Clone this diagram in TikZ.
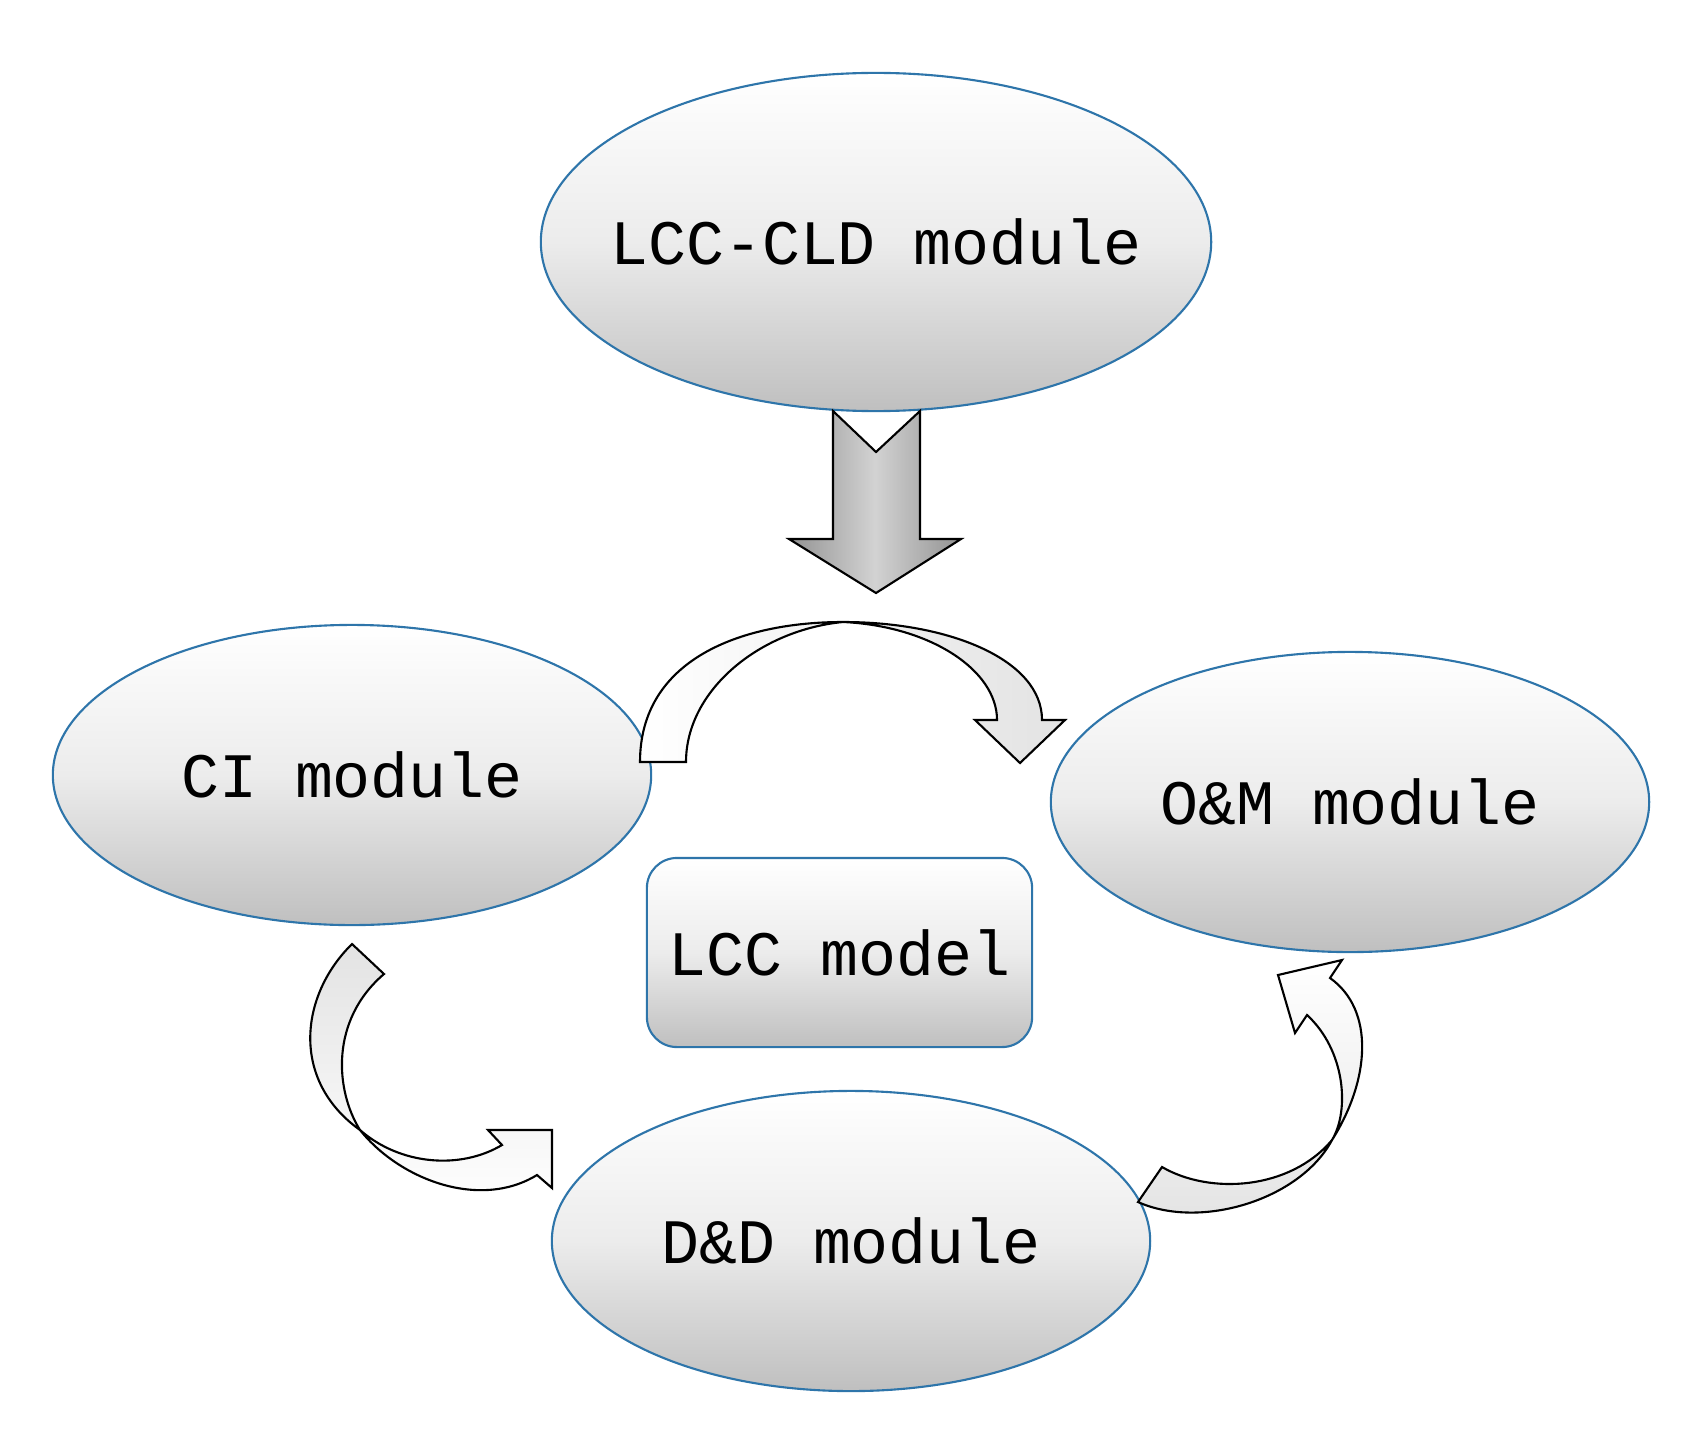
\documentclass[tikz,border=0pt]{standalone}
\usepackage{fontspec}
\setmainfont{Liberation Mono}
\begin{document}
\begin{tikzpicture}[x=0.01cm,y=-0.01cm,
  ell/.style={ellipse,draw=bordblue,line width=0.6pt,top color=white,bottom color=gray!50,middle color=gray!15,inner sep=0pt},
  lab/.style={font=\fontsize{18}{22}\selectfont},
  carrow/.style={draw=black,line width=0.6pt}]
\usetikzlibrary{shapes.geometric}
\definecolor{bordblue}{RGB}{46,117,170}
\useasboundingbox (0,0) rectangle (1698,1446);
\node[ell,minimum width=6.7cm,minimum height=3.38cm,label={[lab]center:LCC-CLD module}] (cld) at (876,242) {};
\node[ell,minimum width=5.98cm,minimum height=3.0cm,label={[lab]center:CI module}] (ci) at (352,775) {};
\node[ell,minimum width=5.98cm,minimum height=3.0cm,label={[lab]center:O\&M module}] (om) at (1350,802) {};
\node[ell,minimum width=5.98cm,minimum height=3.0cm,label={[lab]center:D\&D module}] (dd) at (851,1241) {};
\node[lab,draw=bordblue,rounded corners=0.3cm,line width=0.6pt,top color=white,bottom color=gray!50,middle color=gray!15,minimum width=3.85cm,minimum height=1.89cm] (lcc) at (839.5,952.5) {LCC model};
% down arrow
\draw[line width=0.6pt,left color=gray!85,right color=gray!85,middle color=gray!35]
 (833,411) -- (876,452) -- (920,411) -- (920,539) -- (961,539) -- (876,593) -- (789,539) -- (833,539) -- cycle;
% top curved arrow
\draw[carrow,left color=white,right color=gray!22]
 (640,762) .. controls (640,660) and (740,622) .. (843,622) .. controls (950,622) and (1042,660) .. (1042,720) -- (1065,720) -- (1020,763) -- (975,720) -- (997,720) .. controls (997,670) and (930,626) .. (843,622) .. controls (760,630) and (686,690) .. (686,762) -- cycle;
% bottom-left curved arrow
\draw[carrow,top color=gray!22,bottom color=white]
 (352,944) .. controls (300,995) and (290,1080) .. (360,1130) .. controls (400,1180) and (480,1210) .. (537,1175) -- (552,1188) -- (552,1130) -- (488,1130) -- (502,1145) .. controls (460,1170) and (400,1165) .. (360,1130) .. controls (335,1090) and (330,1020) .. (384,974) -- cycle;
% right curved arrow
\draw[carrow,top color=white,bottom color=gray!22]
 (1138,1202) .. controls (1200,1230) and (1300,1200) .. (1332,1140) .. controls (1370,1080) and (1375,1010) .. (1330,978) -- (1342,960) -- (1278,975) -- (1295,1033) -- (1307,1015) .. controls (1345,1050) and (1350,1110) .. (1332,1140) .. controls (1290,1190) and (1210,1195) .. (1162,1167) -- cycle;
\end{tikzpicture}
\end{document}
